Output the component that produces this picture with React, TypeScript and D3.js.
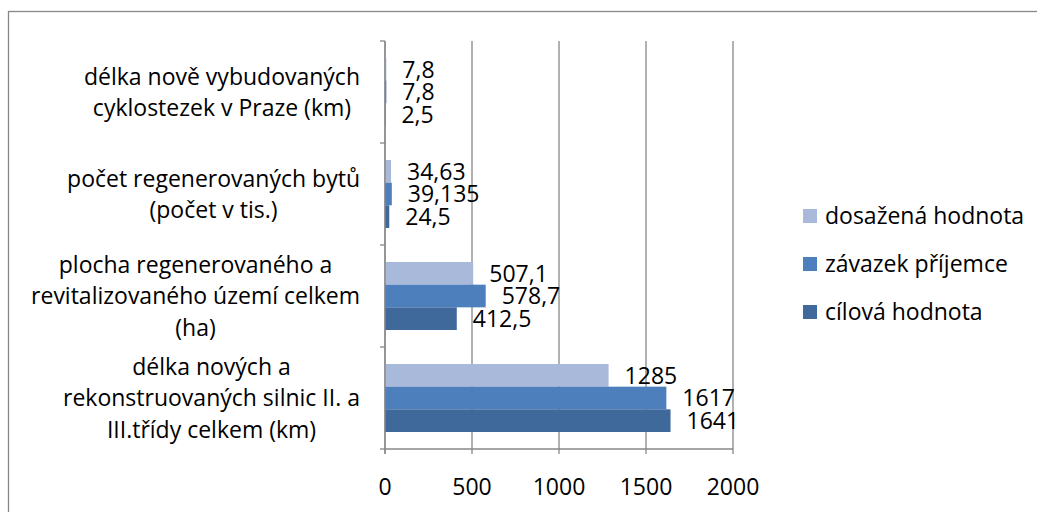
import React, { useEffect, useRef } from 'react';
import * as d3 from 'd3';

// categories, top to bottom
const categories = [
  'délka nově vybudovaných|cyklostezek v Praze (km)',
  'počet regenerovaných bytů|(počet v tis.)',
  'plocha regenerovaného a|revitalizovaného území celkem|(ha)',
  'délka nových a|rekonstruovaných silnic II. a|III.třídy celkem (km)',
];

const seriesNames = ['dosažená hodnota', 'závazek příjemce', 'cílová hodnota'];
const seriesColors = ['#A9B9DA', '#4D7FBD', '#3F689B'];

const dosazena = [7.8, 34.63, 507.1, 1285];
const zavazek = [7.8, 39.135, 578.7, 1617];
const cilova = [2.5, 24.5, 412.5, 1641];
const valueLabels = [
  ['7,8', '34,63', '507,1', '1285'],
  ['7,8', '39,135', '578,7', '1617'],
  ['2,5', '24,5', '412,5', '1641'],
];

const xTicks = [0, 500, 1000, 1500, 2000];

export default function App() {
  const ref = useRef<SVGSVGElement>(null);

  useEffect(() => {
    const width = 1037;
    const height = 512;
    const plot = { left: 385, right: 733, top: 41, bottom: 449 };
    const font = '"Open Sans", Lato, sans-serif';
    const fs = 23;
    const grid = '#878787';

    const svg = d3.select(ref.current);
    svg.selectAll('*').remove();

    // outer chart border (only top and left fall inside the picture)
    svg.append('rect')
      .attr('x', 8.5).attr('y', 11.5)
      .attr('width', width + 20).attr('height', height + 20)
      .attr('fill', 'white').attr('stroke', '#878787').attr('stroke-width', 1.3);

    const x = d3.scaleLinear().domain([0, 2000]).range([plot.left, plot.right]);
    const y0 = d3.scaleBand().domain(categories).range([plot.top, plot.bottom]).padding(0);
    const y1 = d3.scaleBand().domain(seriesNames)
      .range([0, y0.bandwidth()]).paddingInner(0).paddingOuter(0.75);

    const values = [dosazena, zavazek, cilova];

    // vertical gridlines + ticks
    svg.append('g').selectAll('line')
      .data(xTicks)
      .join('line')
      .attr('x1', d => x(d)).attr('x2', d => x(d))
      .attr('y1', plot.top).attr('y2', plot.bottom + 5)
      .attr('stroke', grid).attr('stroke-width', 1.3);

    // x axis line
    svg.append('line')
      .attr('x1', plot.left).attr('x2', plot.right)
      .attr('y1', plot.bottom).attr('y2', plot.bottom)
      .attr('stroke', grid).attr('stroke-width', 1.3);

    // y tick marks at category boundaries
    const bounds = categories.map(c => y0(c) as number).concat([plot.bottom]);
    svg.append('g').selectAll('line')
      .data(bounds)
      .join('line')
      .attr('x1', plot.left - 5).attr('x2', plot.left)
      .attr('y1', d => d).attr('y2', d => d)
      .attr('stroke', grid).attr('stroke-width', 1.3);

    // bars
    seriesNames.forEach((s, si) => {
      const g = svg.append('g');
      g.selectAll('rect')
        .data(categories)
        .join('rect')
        .attr('x', x(0))
        .attr('y', (c) => (y0(c) as number) + (y1(s) as number))
        .attr('width', (c, i) => x(values[si][i]) - x(0))
        .attr('height', y1.bandwidth())
        .attr('fill', seriesColors[si]);

      g.selectAll('text')
        .data(categories)
        .join('text')
        .attr('x', (c, i) => x(values[si][i]) + 16)
        .attr('y', (c) => (y0(c) as number) + (y1(s) as number) + y1.bandwidth() / 2)
        .attr('dy', '0.36em')
        .attr('font-family', font).attr('font-size', fs).attr('fill', '#000')
        .text((c, i) => valueLabels[si][i]);
    });

    // y axis line
    svg.append('line')
      .attr('x1', plot.left).attr('x2', plot.left)
      .attr('y1', plot.top).attr('y2', plot.bottom + 5)
      .attr('stroke', grid).attr('stroke-width', 1.3);

    // x tick labels
    svg.append('g').selectAll('text')
      .data(xTicks)
      .join('text')
      .attr('x', d => x(d)).attr('y', 487)
      .attr('dy', '0.36em')
      .attr('text-anchor', 'middle')
      .attr('font-family', font).attr('font-size', fs)
      .text(d => String(d));

    // category labels: block right-aligned at 360, lines centred inside it
    const lineH = 31.5;
    categories.forEach(c => {
      const lines = c.split('|');
      const cy = (y0(c) as number) + y0.bandwidth() / 2;
      const g = svg.append('g');
      const texts = g.selectAll('text')
        .data(lines)
        .join('text')
        .attr('y', (d, i) => cy + (i - (lines.length - 1) / 2) * lineH)
        .attr('dy', '0.36em')
        .attr('text-anchor', 'middle')
        .attr('font-family', font).attr('font-size', fs)
        .text(d => d);
      let maxW = 0;
      texts.each(function () {
        maxW = Math.max(maxW, (this as SVGTextElement).getComputedTextLength());
      });
      texts.attr('x', 360 - maxW / 2);
    });

    // legend
    const legend = svg.append('g');
    const legendY = [216, 264, 312];
    legend.selectAll('rect')
      .data(seriesNames)
      .join('rect')
      .attr('x', 803).attr('y', (d, i) => legendY[i] - 7)
      .attr('width', 14).attr('height', 14)
      .attr('fill', (d, i) => seriesColors[i]);
    legend.selectAll('text')
      .data(seriesNames)
      .join('text')
      .attr('x', 825).attr('y', (d, i) => legendY[i])
      .attr('dy', '0.36em')
      .attr('font-family', font).attr('font-size', fs)
      .text(d => d);
  }, []);

  return (
    <svg ref={ref} width={1037} height={512}
      style={{ position: 'absolute', left: 0, top: 0, background: 'white' }} />
  );
}
